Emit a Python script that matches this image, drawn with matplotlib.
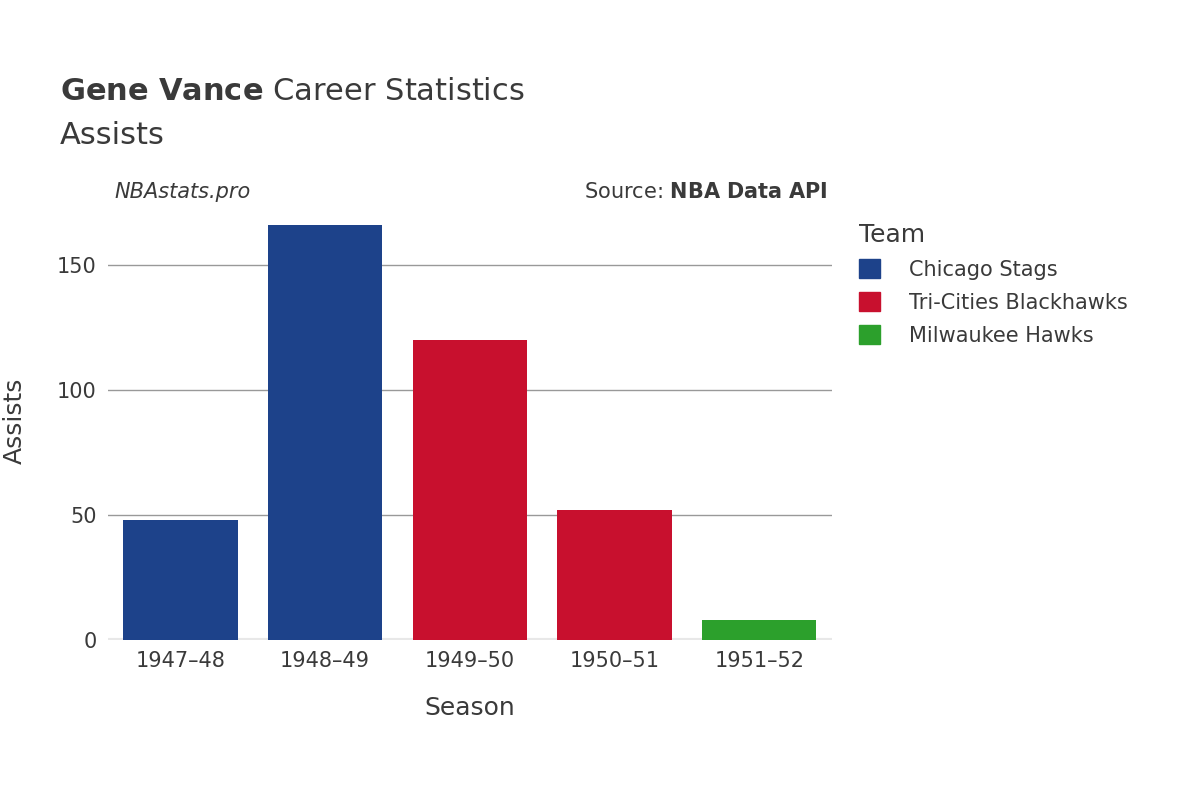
import matplotlib.pyplot as plt
from matplotlib.patches import Patch

seasons = ['1947–48', '1948–49', '1949–50', '1950–51', '1951–52']
assists = [48, 166, 120, 52, 8]
teams = ['Chicago Stags', 'Chicago Stags', 'Tri-Cities Blackhawks', 'Tri-Cities Blackhawks', 'Milwaukee Hawks']
team_order = ['Chicago Stags', 'Tri-Cities Blackhawks', 'Milwaukee Hawks']
team_colors = {'Chicago Stags': '#1d428a', 'Tri-Cities Blackhawks': '#c8102e', 'Milwaukee Hawks': '#2ca02c'}

txt = '#3a3a3a'
fig = plt.figure(figsize=(12, 8), dpi=100)
ax = fig.add_axes([0.09, 0.2, 0.603, 0.5475])

x = range(len(seasons))
ax.bar(x, assists, width=0.79, color=[team_colors[t] for t in teams], zorder=3)
ax.set_xlim(-0.5, 4.5)
ax.set_ylim(0, 175)
ax.set_yticks([0, 50, 100, 150])
ax.set_xticks(list(x))
ax.set_xticklabels(seasons)
ax.tick_params(axis='both', length=0, labelsize=15, colors=txt, pad=8)
ax.grid(axis='y', color='#999999', linewidth=1, zorder=0)
for s in ax.spines.values():
    s.set_visible(False)
ax.axhline(0, color='#e8e8e8', linewidth=3, zorder=2)
ax.set_xlabel('Season', fontsize=18, color=txt, labelpad=18)
ax.set_ylabel('Assists', fontsize=18, color=txt, labelpad=22)

fig.text(0.05, 0.875, r'$\bf{Gene\ Vance}$ Career Statistics', fontsize=22, color=txt)
fig.text(0.05, 0.82, 'Assists', fontsize=22, color=txt)
fig.text(0.095, 0.752, 'NBAstats.pro', fontsize=15, color=txt, style='italic')
fig.text(0.69, 0.752, r'Source: $\bf{NBA\ Data\ API}$', fontsize=15, color=txt, ha='right')

handles = [Patch(color=team_colors[t], label=t) for t in team_order]
leg = fig.legend(handles=handles, loc='upper left', bbox_to_anchor=(0.7, 0.745), frameon=False,
                 fontsize=15, title='Team', title_fontsize=18, labelcolor=txt,
                 handlelength=1.0, handleheight=1.0, labelspacing=0.6, handletextpad=1.4)
leg.get_title().set_color(txt)
leg._legend_box.align = 'left'

fig.savefig('out.png')
